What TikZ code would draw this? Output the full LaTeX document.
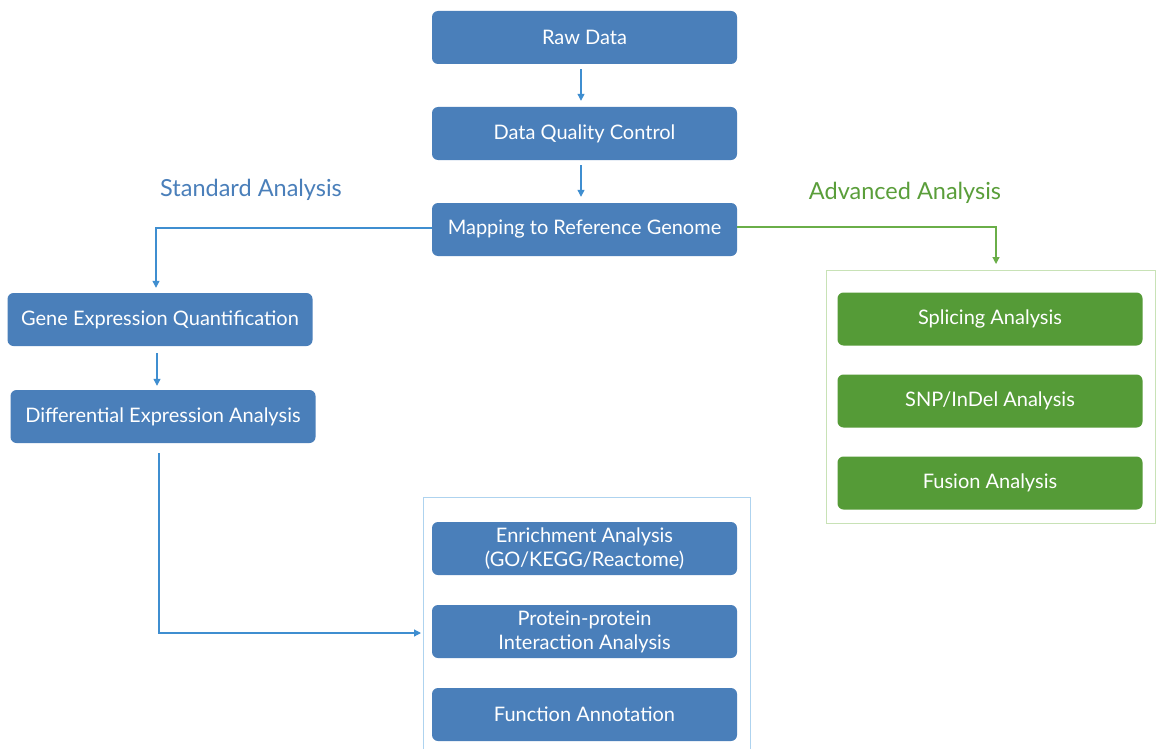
\documentclass[tikz,border=0pt]{standalone}
\usepackage{fontspec}
\setmainfont{Lato}
\usetikzlibrary{arrows.meta}
\definecolor{boxblue}{HTML}{4A7FBA}
\definecolor{boxgreen}{HTML}{559B37}
\definecolor{arrblue}{HTML}{3F8ED0}
\definecolor{arrgreen}{HTML}{6AAE48}
\definecolor{frameblue}{HTML}{AED3EF}
\definecolor{framegreen}{HTML}{C8E2B6}
\definecolor{lblblue}{HTML}{4A7FBA}
\definecolor{lblgreen}{HTML}{5A9E3A}
\begin{document}
\begin{tikzpicture}[x=1pt,y=-1pt,
  bbox/.style={fill=boxblue,rounded corners=6pt,text=white,minimum width=305pt,minimum height=53pt,inner sep=0pt,align=center,font=\fontsize{20}{24}\selectfont},
  gbox/.style={bbox,fill=boxgreen},
  barr/.style={draw=arrblue,line width=1.2pt,-{Triangle[length=7pt,width=7pt]}},
  garr/.style={draw=arrgreen,line width=1.2pt,-{Triangle[length=7pt,width=7pt]}},
  lbl/.style={font=\fontsize{23.5}{28}\selectfont}]
\useasboundingbox (0,0) rectangle (1158,749);
\fill[white] (0,0) rectangle (1158,749);
% frames
\draw[frameblue,line width=1pt] (423,749) -- (423,497) -- (750,497) -- (750,749);
\draw[framegreen,line width=1pt] (826,270) rectangle (1155,523);
\coordinate (gtop) at (996,270);
% main column
\node[bbox] (raw) at (584.5,37.5) {Raw Data};
\node[bbox] (dqc) at (584.5,133.5) {Data Quality Control};
\node[bbox] (map) at (584.5,229.5) {Mapping to Reference Genome};
\node[bbox] (geq) at (160,319.5) {Gene Expression Quantification};
\node[bbox] (dea) at (163,416.5) {Differential Expression Analysis};
\node[bbox] (enr) at (584.5,548.5) {Enrichment Analysis\\(GO/KEGG/Reactome)};
\node[bbox] (ppi) at (584.5,631.5) {Protein-protein\\Interaction Analysis};
\node[bbox] (fun) at (584.5,714.5) {Function Annotation};
\node[gbox] (spl) at (990,319) {Splicing Analysis};
\node[gbox] (snp) at (990,401) {SNP/InDel Analysis};
\node[gbox] (fus) at (990,483) {Fusion Analysis};
% labels
\node[lbl,text=lblblue] (std) at (251,190) {Standard Analysis};
\node[lbl,text=lblgreen] (adv) at (905,193) {Advanced Analysis};
% connectors
\coordinate (ppiin) at (421,633);
\draw[barr] ([xshift=-3.5pt,yshift=-5pt]raw.south) -- ([xshift=-3.5pt,yshift=6pt]dqc.north);
\draw[barr] ([xshift=-3.5pt,yshift=-5pt]dqc.south) -- ([xshift=-3.5pt,yshift=6pt]map.north);
\draw[barr] ([yshift=1.5pt]map.west) -| ([xshift=-4pt,yshift=5pt]geq.north);
\draw[barr] ([xshift=-3pt,yshift=-7pt]geq.south) -- ([xshift=-6pt,yshift=4pt]dea.north);
\draw[barr] ([xshift=-4pt,yshift=-10pt]dea.south) |- (ppiin);
\draw[garr] ([yshift=2.5pt]map.east) -| ([yshift=6pt]gtop);
\end{tikzpicture}
\end{document}
